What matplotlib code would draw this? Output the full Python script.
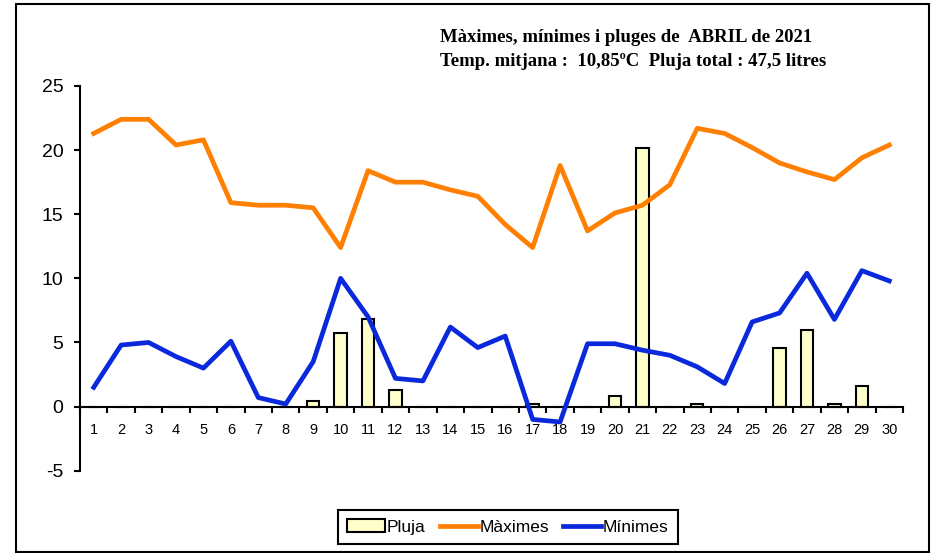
import matplotlib
matplotlib.use("Agg")
import matplotlib.pyplot as plt
from matplotlib.patches import Rectangle
import numpy as np

days = list(range(1, 31))
maximes = [21.3, 22.4, 22.4, 20.4, 20.8, 15.9, 15.7, 15.7, 15.5, 12.4,
           18.4, 17.5, 17.5, 16.9, 16.4, 14.2, 12.4, 18.8, 13.7, 15.1,
           15.7, 17.3, 21.7, 21.3, 20.2, 19.0, 18.3, 17.7, 19.4, 20.4]
minimes = [1.5, 4.8, 5.0, 3.9, 3.0, 5.1, 0.7, 0.2, 3.5, 10.0,
           7.0, 2.2, 2.0, 6.2, 4.6, 5.5, -1.0, -1.2, 4.9, 4.9,
           4.4, 4.0, 3.1, 1.8, 6.6, 7.3, 10.4, 6.8, 10.6, 9.8]
pluja = [0, 0, 0, 0, 0, 0, 0, 0, 0.4, 5.7,
         6.8, 1.3, 0, 0, 0, 0, 0.2, 0, 0, 0.8,
         20.2, 0, 0.2, 0, 0, 4.6, 6.0, 0.2, 1.6, 0]
yticks = [-5, 0, 5, 10, 15, 20, 25]
title1 = "Màximes, mínimes i pluges de  ABRIL de 2021"
title2 = "Temp. mitjana :  10,85ºC  Pluja total : 47,5 litres"

W, H = 936, 553
fig = plt.figure(figsize=(W / 100, H / 100), dpi=100)
ax = fig.add_axes([80 / W, 1 - 470.7 / H, (903 - 80) / W, (470.7 - 86) / H])

narrow = ['Liberation Sans Narrow', 'Liberation Sans', 'DejaVu Sans']

bars = ax.bar(days, pluja, width=0.45, color='#FFFFCC', edgecolor='black',
              linewidth=1.5, label='Pluja', zorder=2)
l1, = ax.plot(days, maximes, color='#FF7F00', linewidth=3.4, label='Màximes', zorder=3)
l2, = ax.plot(days, minimes, color='#0A28DC', linewidth=3.4, label='Mínimes', zorder=3)

ax.set_xlim(0.5, 30.5)
ax.set_ylim(-5, 25)
ax.spines['top'].set_visible(False)
ax.spines['right'].set_visible(False)
ax.spines['bottom'].set_position(('data', 0))
ax.spines['bottom'].set_linewidth(1.5)
ax.spines['left'].set_linewidth(1.5)

ax.set_yticks(yticks)
ax.set_yticklabels([str(v) for v in yticks], fontfamily=narrow, fontsize=14)
ax.tick_params(axis='y', direction='out', length=4, width=1.5, pad=8)

ax.set_xticks(np.arange(0.5, 31, 1.0))
ax.set_xticklabels([])
ax.tick_params(axis='x', which='major', direction='out', length=4, width=1.5)
ax.set_xticks(days, minor=True)
ax.set_xticklabels([str(d) for d in days], minor=True, fontfamily=narrow, fontsize=10.5)
ax.tick_params(axis='x', which='minor', length=0, pad=12)

leg = ax.legend([bars, l1, l2], ['Pluja', 'Màximes', 'Mínimes'],
                loc='center', bbox_to_anchor=(508 / W, 1 - 527 / H),
                bbox_transform=fig.transFigure, ncol=3, frameon=True,
                fancybox=False, edgecolor='black', framealpha=1,
                prop={'family': narrow, 'size': 12.5}, handlelength=2.2,
                handletextpad=0.1, columnspacing=0.8, borderpad=0.55,
                borderaxespad=0)
leg.get_frame().set_linewidth(1.5)

fig.text(440 / W, 1 - 38 / H, title1, fontfamily='Liberation Serif',
         fontweight='bold', fontsize=13.5, ha='left', va='center')
fig.text(440 / W, 1 - 61 / H, title2, fontfamily='Liberation Serif',
         fontweight='bold', fontsize=13.5, ha='left', va='center')

fig.patches.append(Rectangle((16 / W, 1 - 552 / H), (929 - 16) / W, (552 - 4) / H,
                             transform=fig.transFigure, fill=False,
                             edgecolor='black', linewidth=1.5))

fig.savefig('out.png', dpi=100)
